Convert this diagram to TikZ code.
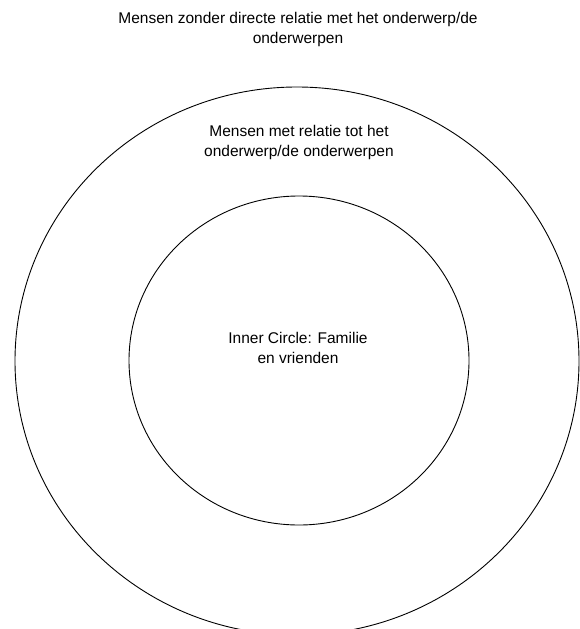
\documentclass[tikz,border=0pt]{standalone}
\usepackage{fontspec}
\setmainfont{Liberation Sans}
\usetikzlibrary{shapes.geometric}
\begin{document}
\begin{tikzpicture}[x=1pt,y=-1pt,
  ring/.style={ellipse, draw=black, line width=0.9pt, inner sep=0pt, outer sep=0pt},
  lbl/.style={align=center, font=\fontsize{15.5}{20}\selectfont, inner sep=0pt, text=black}]
\useasboundingbox (0,0) rectangle (580,629);
\fill[white] (0,0) rectangle (580,629);
\begin{scope}
\clip (0,0) rectangle (580,629);
\node[ring, minimum width=564pt, minimum height=548pt] (outer) at (297,361) {};
\node[ring, minimum width=340pt, minimum height=329pt] (inner) at (299,360.5) {};
\end{scope}
\node[lbl] (outerlbl) at (298,29.5) {Mensen zonder directe relatie met het onderwerp/de\\onderwerpen};
\node[lbl] (midlbl) at (299,142) {Mensen met relatie tot het\\onderwerp/de onderwerpen};
\node[lbl] (innerlbl) at (298,348) {Inner Circle: Familie\\en vrienden};
\end{tikzpicture}
\end{document}
